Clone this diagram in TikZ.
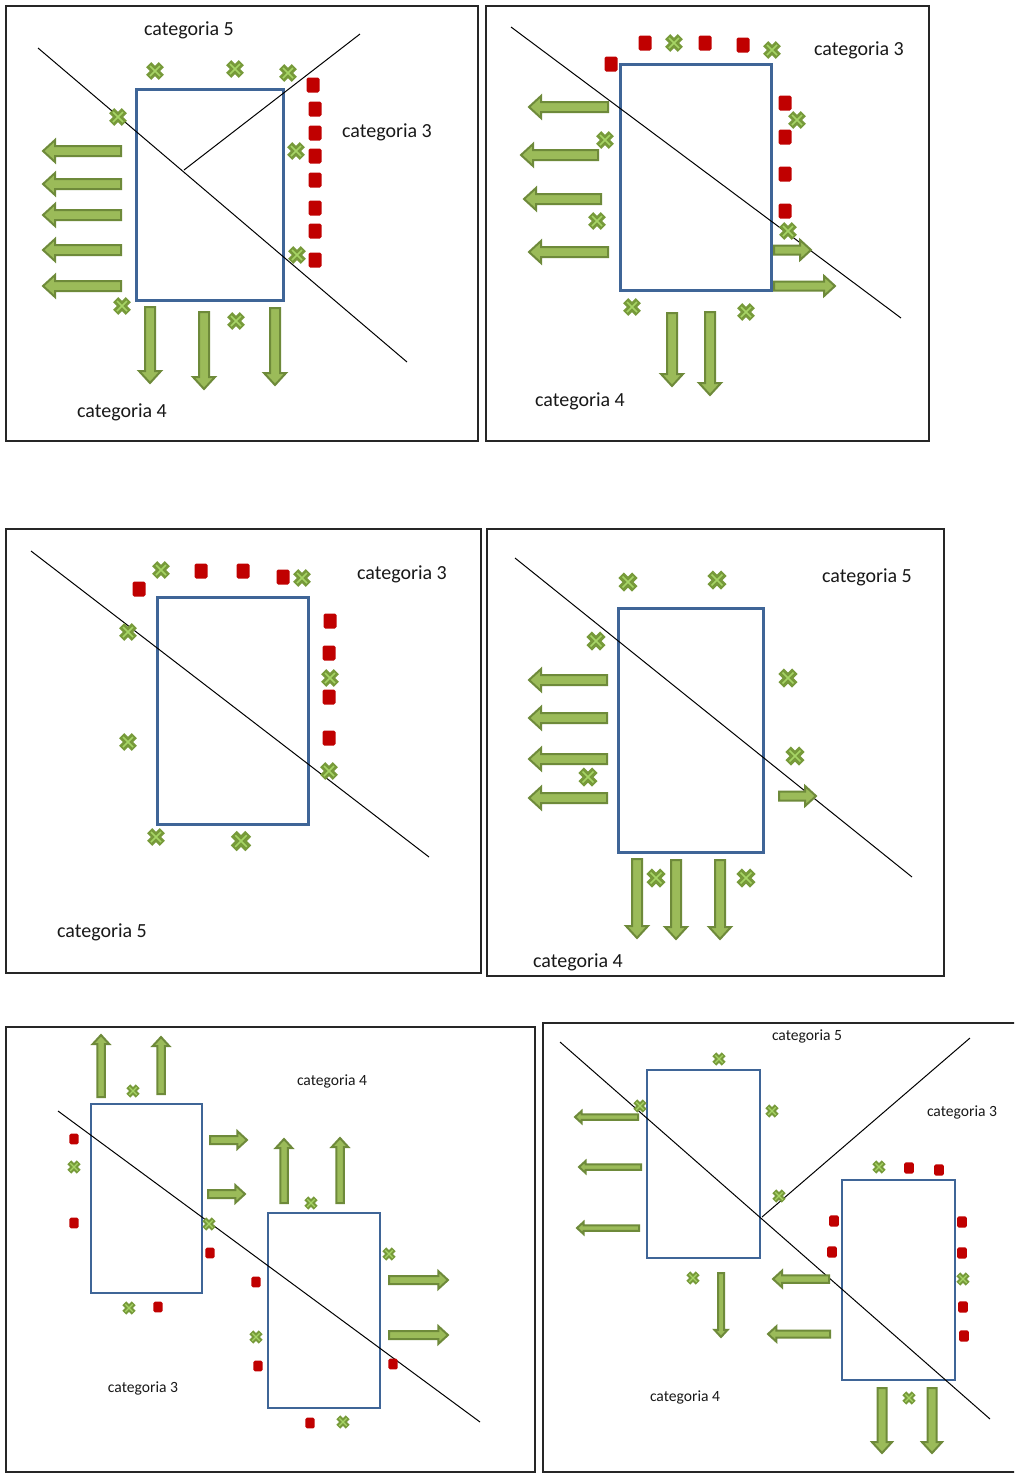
\documentclass[tikz,border=0pt]{standalone}
\usepackage{fontspec}
\setmainfont{Carlito}
\definecolor{boxblue}{HTML}{3F6597}
\definecolor{arrfill}{HTML}{9BBB59}
\definecolor{arrline}{HTML}{6E8A3A}
\definecolor{xdark}{HTML}{779A3A}
\definecolor{xlight}{HTML}{A6D465}
\definecolor{sqred}{HTML}{C00000}
\tikzset{
 panel/.style={draw=black!85, line width=1pt},
 room/.style={draw=boxblue, line width=1.5pt},
 rooms/.style={draw=boxblue, line width=1.2pt},
 cutline/.style={draw=black, line width=0.5pt},
 garrow/.style={fill=arrfill, draw=arrline, line width=1pt, line join=miter},
 lbl/.style={font=\fontsize{10}{12}\selectfont, inner sep=0pt, text=black!90},
 lbls/.style={font=\fontsize{7.8}{9}\selectfont, inner sep=0pt, text=black!90},
 pics/crossmark/.style={code={
   \draw[xdark, line width=#1*3.6pt] (-6.3*#1,-6.3*#1) -- (6.3*#1,6.3*#1) (-6.3*#1,6.3*#1) -- (6.3*#1,-6.3*#1);
   \draw[xlight, line width=#1*0.75pt] (-5*#1,-5*#1) -- (5*#1,5*#1) (-5*#1,5*#1) -- (5*#1,-5*#1);
 }},
 pics/crossmark/.default=1,
 pics/redsq/.style={code={\fill[sqred, rounded corners=0.8pt] (-6.5*#1,-7.5*#1) rectangle (6.5*#1,7.5*#1);}},
 pics/redsq/.default=1,
}
% block arrow: tail x, tail y, length, angle, size
\newcommand\barrow[5]{%
 \draw[garrow, shift={(#1,#2)}, rotate=#4] (0,-5*#5) -- (#3-12*#5,-5*#5) -- (#3-12*#5,-11*#5) -- (#3,0) -- (#3-12*#5,11*#5) -- (#3-12*#5,5*#5) -- (0,5*#5) -- cycle;}
\begin{document}
\begin{tikzpicture}[x=0.5pt,y=-0.5pt]
\useasboundingbox (0,0) rectangle (1014,1474);
\clip (0,0) rectangle (1014,1474);
\fill[white] (0,0) rectangle (1014,1474);

% ================= Panel 1 =================
\draw[panel] (6,6) rectangle (478,441);
\draw[room] (136,89) rectangle (283,300);
\coordinate (p1a) at (38,48); \coordinate (p1b) at (407,362);
\coordinate (p1c) at (360,34); \coordinate (p1d) at (184,170);
\draw[cutline] (p1a) -- (p1b);
\draw[cutline] (p1c) -- (p1d);
\node[lbl] (t1a) at (189,30) {categoria 5};
\node[lbl] (t1b) at (387,132) {categoria 3};
\node[lbl] (t1c) at (122,412) {categoria 4};
\pic at (313,85) {redsq};
\foreach \y in {109,133,156,180,208,231,260} \pic at (315,\y) {redsq};
\foreach \p in {(155,71),(235,69),(288,73),(118,117),(296,151),(297,255),(122,306),(236,321)} \pic at \p {crossmark};
\foreach \y in {151,184,215,250,286} \barrow{121}{\y}{78}{180}{1};
\barrow{150}{307}{76}{270}{1}
\barrow{204}{312}{77}{270}{1}
\barrow{275}{308}{77}{270}{1}

% ================= Panel 2 =================
\draw[panel] (486,6) rectangle (929,441);
\draw[room] (620,64) rectangle (771,290);
\coordinate (p2a) at (511,27); \coordinate (p2b) at (901,318);
\draw[cutline] (p2a) -- (p2b);
\node[lbl] (t2a) at (859,50) {categoria 3};
\node[lbl] (t2b) at (580,401) {categoria 4};
\foreach \p in {(611,64),(645,43),(705,43),(743,45),(785,103),(785,137),(785,174),(785,211)} \pic at \p {redsq};
\foreach \p in {(674,43),(772,50),(797,120),(605,140),(597,221),(788,231),(632,307),(746,312)} \pic at \p {crossmark};
\barrow{608}{107}{79}{180}{1}
\barrow{598}{155}{77}{180}{1}
\barrow{601}{199}{77}{180}{1}
\barrow{608}{252}{79}{180}{1}
\barrow{774}{250}{37}{0}{0.9}
\barrow{774}{286}{61}{0}{0.9}
\barrow{672}{313}{73}{270}{1}
\barrow{710}{312}{83}{270}{1}

% ================= Panel 3 =================
\draw[panel] (6,529) rectangle (481,973);
\draw[room] (157,597) rectangle (308,824);
\coordinate (p3a) at (31,551); \coordinate (p3b) at (429,857);
\draw[cutline] (p3a) -- (p3b);
\node[lbl] (t3a) at (402,574) {categoria 3};
\node[lbl] (t3b) at (102,932) {categoria 5};
\foreach \p in {(139,589),(201,571),(243,571),(283,577),(330,621),(329,653),(329,697),(329,738)} \pic at \p {redsq};
\foreach \p in {(161,570),(302,578),(128,632),(330,678),(128,742),(329,771),(156,837)} \pic at \p {crossmark};
\pic at (241,841) {crossmark=1.15};

% ================= Panel 4 =================
\draw[panel] (487,529) rectangle (944,976);
\draw[room] (618,608) rectangle (763,852);
\coordinate (p4a) at (515,558); \coordinate (p4b) at (912,877);
\draw[cutline] (p4a) -- (p4b);
\node[lbl] (t4a) at (867,577) {categoria 5};
\node[lbl] (t4b) at (578,962) {categoria 4};
\foreach \y in {680,718,759,798} \barrow{607}{\y}{78}{180}{1};
\barrow{779}{796}{37}{0}{0.9}
\barrow{637}{859}{79}{270}{1}
\barrow{676}{860}{79}{270}{1}
\barrow{720}{860}{79}{270}{1}
\foreach \p in {(628,582),(717,580),(596,641),(788,678),(795,756),(588,777),(656,878),(746,878)} \pic at \p {crossmark=1.08};

% ================= Panel 5 =================
\draw[panel] (6,1027) rectangle (535,1472);
\draw[rooms] (91,1104) rectangle (202,1293);
\draw[rooms] (268,1213) rectangle (380,1408);
\coordinate (p5a) at (58,1111); \coordinate (p5b) at (480,1422);
\draw[cutline] (p5a) -- (p5b);
\node[lbls] (t5a) at (332,1081) {categoria 4};
\node[lbls] (t5b) at (143,1388) {categoria 3};
\barrow{101}{1097}{62}{90}{0.75}
\barrow{161}{1094}{57}{90}{0.75}
\barrow{284}{1203}{64}{90}{0.75}
\barrow{340}{1203}{65}{90}{0.75}
\barrow{210}{1140}{37}{0}{0.8}
\barrow{208}{1194}{37}{0}{0.8}
\barrow{389}{1280}{59}{0}{0.8}
\barrow{389}{1335}{59}{0}{0.8}
\foreach \p in {(74,1139),(74,1223),(210,1253),(158,1307),(256,1282),(258,1366),(393,1364),(310,1423)} \pic at \p {redsq=0.72};
\foreach \p in {(133,1091),(74,1167),(209,1224),(129,1308),(311,1203),(389,1254),(256,1337),(343,1422)} \pic at \p {crossmark=0.75};

% ================= Panel 6 =================
\draw[panel] (543,1023) rectangle (1020,1472);
\draw[rooms] (647,1070) rectangle (760,1258);
\draw[rooms] (842,1180) rectangle (955,1380);
\coordinate (p6a) at (560,1042); \coordinate (p6b) at (990,1419);
\coordinate (p6c) at (970,1038); \coordinate (p6d) at (762,1217);
\draw[cutline] (p6a) -- (p6b);
\draw[cutline] (p6c) -- (p6d);
\node[lbls] (t6a) at (807,1036) {categoria 5};
\node[lbls] (t6b) at (962,1112) {categoria 3};
\node[lbls] (t6c) at (685,1397) {categoria 4};
\barrow{638}{1117}{63}{180}{0.55}
\barrow{641}{1167}{62}{180}{0.55}
\barrow{639}{1228}{62}{180}{0.55}
\barrow{829}{1279}{56}{180}{0.75}
\barrow{830}{1334}{62}{180}{0.7}
\barrow{721}{1273}{64}{270}{0.6}
\barrow{882}{1388}{65}{270}{0.9}
\barrow{932}{1388}{65}{270}{0.9}
\foreach \p in {(909,1168),(939,1170),(834,1221),(832,1252),(962,1222),(962,1253),(963,1307),(964,1336)} \pic at \p {redsq=0.75};
\foreach \p in {(719,1059),(640,1106),(772,1111),(779,1196),(879,1167),(693,1278),(963,1279),(909,1398)} \pic at \p {crossmark=0.75};
\end{tikzpicture}
\end{document}
